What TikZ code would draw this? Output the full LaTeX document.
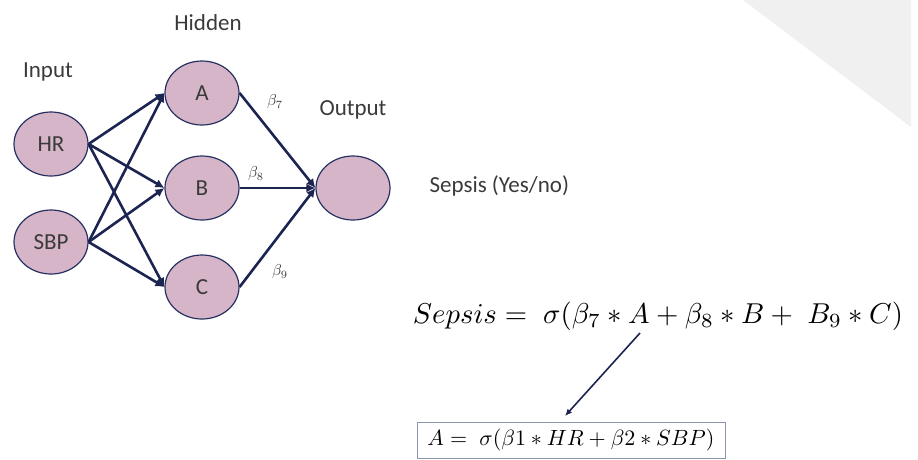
\documentclass[tikz,border=0pt]{standalone}
\usepackage{fontspec}
\setmainfont{Carlito}
\usetikzlibrary{shapes.geometric,arrows.meta}
\definecolor{navy}{HTML}{1C2452}
\definecolor{nodefill}{HTML}{D7B5C8}
\definecolor{nodeline}{HTML}{263060}
\definecolor{labelgray}{HTML}{3A3A3A}
\definecolor{boxline}{HTML}{8A96AA}
\definecolor{bggray}{HTML}{F0F0F0}
\tikzset{
  neuron/.style={ellipse, draw=nodeline, line width=1.2pt, fill=nodefill, minimum width=74pt, minimum height=64pt, inner sep=0pt, font=\fontsize{23}{26}\selectfont, text=labelgray},
  layerlabel/.style={font=\fontsize{23}{26}\selectfont, text=labelgray},
  conn/.style={draw=navy, line width=2.6pt, -{Latex[length=9pt,width=9pt]}},
  betalabel/.style={text=labelgray, inner sep=0pt},
}
\begin{document}
\begin{tikzpicture}[x=1pt,y=-1pt]
\useasboundingbox (0,0) rectangle (918,459);
\fill[bggray] (743,0) -- (911,0) -- (911,127) -- cycle;

\node[neuron] (hr) at (51,144) {HR};
\node[neuron] (sbp) at (51,242) {SBP};
\node[neuron] (a) at (202,93) {A};
\node[neuron] (b) at (202,188) {B};
\node[neuron] (c) at (202,287) {C};
\node[neuron] (out) at (353,188) {};

\node[layerlabel] (hidden) at (208,23) {Hidden};
\node[layerlabel] (input) at (48,72) {Input};
\node[layerlabel] (output) at (353,110) {Output};
\node[layerlabel, anchor=west] (sepsislbl) at (426,186) {Sepsis (Yes/no)};

\draw[conn] (hr.east) -- (a.west);
\draw[conn] (hr.east) -- (b.west);
\draw[conn] (hr.east) -- (c.west);
\draw[conn] (sbp.east) -- (a.west);
\draw[conn] (sbp.east) -- (b.west);
\draw[conn] (sbp.east) -- (c.west);
\draw[conn] (a.east) -- (out.west);
\draw[conn] (b.east) -- (out.west);
\draw[conn] (c.east) -- (out.west);

\node[betalabel] (b7) at (275,102) {\resizebox{16pt}{!}{$\beta_7$}};
\node[betalabel] (b8) at (256,174) {\resizebox{16pt}{!}{$\beta_8$}};
\node[betalabel] (b9) at (280,272) {\resizebox{16pt}{!}{$\beta_9$}};

\node[inner sep=0pt] (eq) at (658,316) {\resizebox{490pt}{!}{$Sepsis =\; \sigma(\beta_7 * A + \beta_8 * B +\; B_9 * C)$}};
\node[draw=boxline, line width=1pt, minimum width=308pt, minimum height=36pt, inner sep=0pt] (box) at (571,440) {\resizebox{287pt}{!}{$A =\; \sigma(\beta 1 * HR + \beta 2 * SBP)$}};

\coordinate (arrstart) at (640,333);
\coordinate (arrend) at (565,416);
\draw[draw=navy, line width=1.6pt, -{Latex[length=7pt,width=6pt]}] (arrstart) -- (arrend);
\end{tikzpicture}
\end{document}
